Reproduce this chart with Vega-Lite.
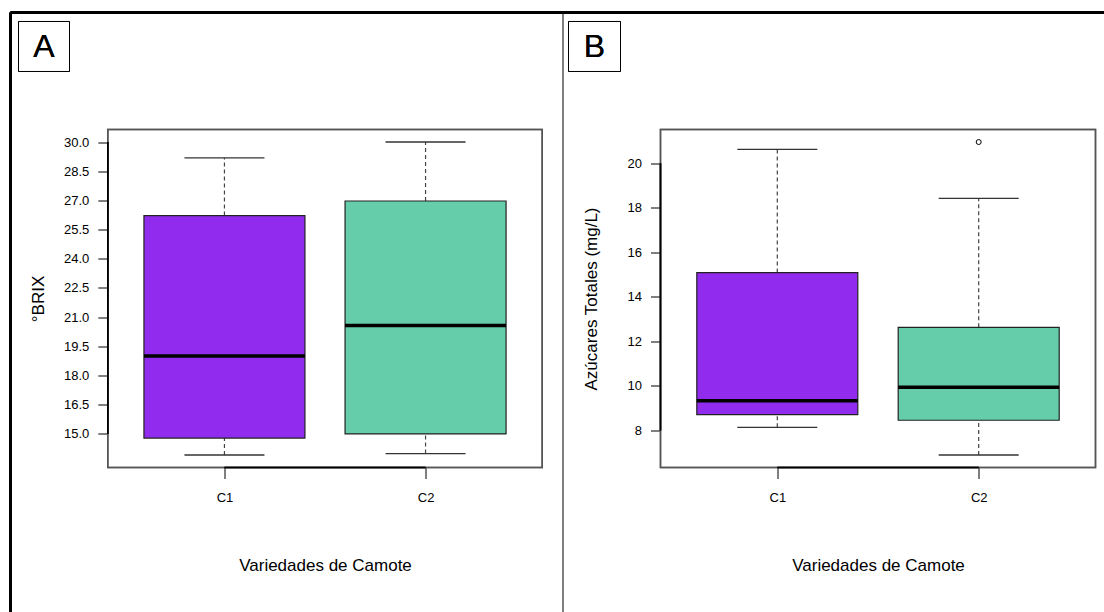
{
  "$schema": "https://vega.github.io/schema/vega-lite/v6.json",
  "padding": {"left": 8.5, "top": 10.5, "right": 0, "bottom": 0},
  "bounds": "flush",
  "spacing": 0,
  "background": "white",
  "config": {
    "font": "Liberation Sans",
    "view": {"stroke": "black", "strokeWidth": 1},
    "axis": {"grid": false, "domain": false, "tickColor": "black", "tickWidth": 1, "labelColor": "black", "titleColor": "black", "titleFontWeight": "normal", "labelFont": "Liberation Sans", "titleFont": "Liberation Sans"}
  },
  "datasets": {
    "brix": [
      {"variedad": "C1", "minimo": 13.92, "q1": 14.79, "mediana": 19.0, "q3": 26.22, "maximo": 29.18, "atipico": null},
      {"variedad": "C2", "minimo": 13.99, "q1": 15.0, "mediana": 20.57, "q3": 26.97, "maximo": 30.0, "atipico": null}
    ],
    "azucar": [
      {"variedad": "C1", "minimo": 8.14, "q1": 8.71, "mediana": 9.34, "q3": 15.09, "maximo": 20.62, "atipico": null},
      {"variedad": "C2", "minimo": 6.9, "q1": 8.46, "mediana": 9.94, "q3": 12.63, "maximo": 18.42, "atipico": 20.95}
    ]
  },
  "hconcat": [
    {
      "width": 552,
      "height": 602,
      "data": {"name": "brix"},
      "transform": [{"window": [{"op": "row_number", "as": "pos"}]}],
      "layer": [
        {
          "mark": {"type": "rule", "color": "black", "strokeWidth": 3},
          "encoding": {
            "x": {"datum": -0.0638},
            "x2": {"datum": 2.6809},
            "y": {"datum": 36.654}
          }
        },
        {
          "mark": {"type": "rule", "color": "black", "strokeWidth": 3},
          "encoding": {
            "x": {"datum": -0.0638},
            "y": {"datum": 5.724},
            "y2": {"datum": 36.654}
          }
        },
        {
          "mark": {"type": "rect", "fill": "white", "stroke": "black", "strokeWidth": 1},
          "encoding": {
            "x": {"datum": -0.024},
            "x2": {"datum": 0.2296},
            "y": {"datum": 36.192},
            "y2": {"datum": 33.623}
          }
        },
        {
          "mark": {"type": "text", "text": "A", "fontSize": 32, "align": "center", "baseline": "middle", "color": "black"},
          "encoding": {
            "x": {"datum": 0.1028},
            "y": {"datum": 34.907}
          }
        },
        {
          "mark": {"type": "rect", "fillOpacity": 0, "stroke": "#555555", "strokeWidth": 1.5},
          "encoding": {
            "x": {"datum": 0.42},
            "x2": {"datum": 2.58},
            "y": {"datum": 13.277},
            "y2": {"datum": 30.643}
          }
        },
        {
          "mark": {"type": "rule", "color": "black", "strokeWidth": 1.5},
          "encoding": {
            "x": {"datum": 0.42},
            "y": {"datum": 15},
            "y2": {"datum": 30}
          }
        },
        {
          "mark": {"type": "rule", "color": "black", "strokeWidth": 1.5},
          "encoding": {
            "x": {"datum": 1},
            "x2": {"datum": 2},
            "y": {"datum": 13.277}
          }
        },
        {
          "mark": {"type": "rule", "color": "#444444", "strokeWidth": 1.2, "strokeDash": [4, 3]},
          "encoding": {
            "x": {"field": "pos", "type": "quantitative"},
            "y": {"field": "q3", "type": "quantitative"},
            "y2": {"field": "maximo"}
          }
        },
        {
          "mark": {"type": "rule", "color": "#444444", "strokeWidth": 1.2, "strokeDash": [4, 3]},
          "encoding": {
            "x": {"field": "pos", "type": "quantitative"},
            "y": {"field": "minimo", "type": "quantitative"},
            "y2": {"field": "q1"}
          }
        },
        {
          "mark": {"type": "bar", "size": 161, "stroke": "#222222", "strokeWidth": 1.2},
          "encoding": {
            "x": {
              "field": "pos", "type": "quantitative",
              "scale": {"domain": [-0.0638, 2.6809], "nice": false, "zero": false, "padding": 0},
              "axis": {"values": [1, 2], "labelExpr": "datum.value == 1 ? 'C1' : 'C2'", "offset": -147, "tickSize": 11, "labelPadding": 13, "labelFontSize": 13, "title": "Variedades de Camote", "titleFontSize": 17, "titleX": 314.5, "titleY": 98, "titleBaseline": "middle", "titleAlign": "center"}
            },
            "y": {
              "field": "q1", "type": "quantitative",
              "scale": {"domain": [5.724, 36.654], "nice": false, "zero": false, "padding": 0},
              "axis": {"values": [15, 16.5, 18, 19.5, 21, 22.5, 24, 25.5, 27, 28.5, 30], "format": ".1f", "offset": -97.3, "tickSize": 10, "labelPadding": 9, "labelFontSize": 13, "title": "°BRIX", "titleFontSize": 17, "titleX": -69, "titleY": 286, "titleAngle": -90, "titleBaseline": "middle", "titleAlign": "center"}
            },
            "y2": {"field": "q3"},
            "fill": {"field": "variedad", "type": "nominal", "scale": {"domain": ["C1", "C2"], "range": ["#912CEE", "#66CDAA"]}, "legend": null}
          }
        },
        {
          "mark": {"type": "tick", "orient": "horizontal", "size": 161, "thickness": 3.5, "color": "black", "opacity": 1},
          "encoding": {
            "x": {"field": "pos", "type": "quantitative"},
            "y": {"field": "mediana", "type": "quantitative"}
          }
        },
        {
          "mark": {"type": "tick", "orient": "horizontal", "size": 80, "thickness": 1.3, "color": "#333333", "opacity": 1},
          "encoding": {
            "x": {"field": "pos", "type": "quantitative"},
            "y": {"field": "maximo", "type": "quantitative"}
          }
        },
        {
          "mark": {"type": "tick", "orient": "horizontal", "size": 80, "thickness": 1.3, "color": "#333333", "opacity": 1},
          "encoding": {
            "x": {"field": "pos", "type": "quantitative"},
            "y": {"field": "minimo", "type": "quantitative"}
          }
        }
      ]
    },
    {
      "width": 542,
      "height": 602,
      "view": {"stroke": null},
      "data": {"name": "azucar"},
      "transform": [{"window": [{"op": "row_number", "as": "pos"}]}],
      "layer": [
        {
          "mark": {"type": "rule", "color": "black", "strokeWidth": 3},
          "encoding": {
            "x": {"datum": -0.0666},
            "x2": {"datum": 2.6247},
            "y": {"datum": 26.7645}
          }
        },
        {
          "mark": {"type": "rect", "fill": "white", "stroke": "black", "strokeWidth": 1},
          "encoding": {
            "x": {"datum": -0.0368},
            "x2": {"datum": 0.2214},
            "y": {"datum": 26.3605},
            "y2": {"datum": 24.1158}
          }
        },
        {
          "mark": {"type": "text", "text": "B", "fontSize": 32, "align": "center", "baseline": "middle", "color": "black"},
          "encoding": {
            "x": {"datum": 0.0923},
            "y": {"datum": 25.238}
          }
        },
        {
          "mark": {"type": "rect", "fillOpacity": 0, "stroke": "#555555", "strokeWidth": 1.5},
          "encoding": {
            "x": {"datum": 0.42},
            "x2": {"datum": 2.58},
            "y": {"datum": 6.338},
            "y2": {"datum": 21.512}
          }
        },
        {
          "mark": {"type": "rule", "color": "black", "strokeWidth": 1.5},
          "encoding": {
            "x": {"datum": 0.42},
            "y": {"datum": 8},
            "y2": {"datum": 20}
          }
        },
        {
          "mark": {"type": "rule", "color": "black", "strokeWidth": 1.5},
          "encoding": {
            "x": {"datum": 1},
            "x2": {"datum": 2},
            "y": {"datum": 6.338}
          }
        },
        {
          "mark": {"type": "rule", "color": "#444444", "strokeWidth": 1.2, "strokeDash": [4, 3]},
          "encoding": {
            "x": {"field": "pos", "type": "quantitative"},
            "y": {"field": "q3", "type": "quantitative"},
            "y2": {"field": "maximo"}
          }
        },
        {
          "mark": {"type": "rule", "color": "#444444", "strokeWidth": 1.2, "strokeDash": [4, 3]},
          "encoding": {
            "x": {"field": "pos", "type": "quantitative"},
            "y": {"field": "minimo", "type": "quantitative"},
            "y2": {"field": "q1"}
          }
        },
        {
          "mark": {"type": "bar", "size": 161, "stroke": "#222222", "strokeWidth": 1.2},
          "encoding": {
            "x": {
              "field": "pos", "type": "quantitative",
              "scale": {"domain": [-0.0666, 2.6247], "nice": false, "zero": false, "padding": 0},
              "axis": {"values": [1, 2], "labelExpr": "datum.value == 1 ? 'C1' : 'C2'", "offset": -147, "tickSize": 11, "labelPadding": 13, "labelFontSize": 13, "title": "Variedades de Camote", "titleFontSize": 17, "titleX": 315.5, "titleY": 98, "titleBaseline": "middle", "titleAlign": "center"}
            },
            "y": {
              "field": "q1", "type": "quantitative",
              "scale": {"domain": [-0.2613, 26.7645], "nice": false, "zero": false, "padding": 0},
              "axis": {"values": [8, 10, 12, 14, 16, 18, 20], "format": "d", "offset": -98, "tickSize": 10, "labelPadding": 9, "labelFontSize": 13, "title": "Azúcares Totales (mg/L)", "titleFontSize": 17, "titleX": -69, "titleY": 286, "titleAngle": -90, "titleBaseline": "middle", "titleAlign": "center"}
            },
            "y2": {"field": "q3"},
            "fill": {"field": "variedad", "type": "nominal", "scale": {"domain": ["C1", "C2"], "range": ["#912CEE", "#66CDAA"]}, "legend": null}
          }
        },
        {
          "mark": {"type": "tick", "orient": "horizontal", "size": 161, "thickness": 3.5, "color": "black", "opacity": 1},
          "encoding": {
            "x": {"field": "pos", "type": "quantitative"},
            "y": {"field": "mediana", "type": "quantitative"}
          }
        },
        {
          "mark": {"type": "tick", "orient": "horizontal", "size": 80, "thickness": 1.3, "color": "#333333", "opacity": 1},
          "encoding": {
            "x": {"field": "pos", "type": "quantitative"},
            "y": {"field": "maximo", "type": "quantitative"}
          }
        },
        {
          "mark": {"type": "tick", "orient": "horizontal", "size": 80, "thickness": 1.3, "color": "#333333", "opacity": 1},
          "encoding": {
            "x": {"field": "pos", "type": "quantitative"},
            "y": {"field": "minimo", "type": "quantitative"}
          }
        },
        {
          "mark": {"type": "point", "shape": "circle", "size": 25, "filled": false, "stroke": "black", "strokeWidth": 1, "opacity": 1},
          "encoding": {
            "x": {"field": "pos", "type": "quantitative"},
            "y": {"field": "atipico", "type": "quantitative"}
          }
        }
      ]
    }
  ]
}
